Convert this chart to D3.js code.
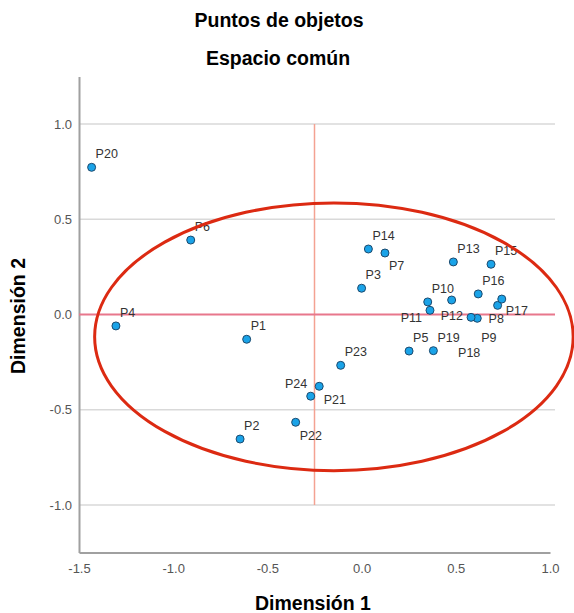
<!DOCTYPE html>
<html>
  <head>
    <meta charset="utf-8">
    <title>Puntos de objetos</title>
    <script type="text/javascript" src="https://cdnjs.cloudflare.com/ajax/libs/d3/7.8.5/d3.min.js"></script>
    <style>
      body { margin: 0; background: #fff; }
      text { font-family: "Liberation Sans", Arial, sans-serif; }
    </style>
  </head>
  <body>
  <script>

    // object labels and their coordinates on the two dimensions
    var labels = ['P1','P2','P3','P4','P5','P6','P7','P8','P9','P10','P11','P12',
                  'P13','P14','P15','P16','P17','P18','P19','P20','P21','P22','P23','P24'];
    var dim1 = [-0.61, -0.645, 0.0, -1.304, 0.252, -0.907, 0.124, 0.722, 0.614, 0.351, 0.363, 0.478,
                0.487, 0.036, 0.687, 0.619, 0.744, 0.581, 0.381, -1.433, -0.27, -0.35, -0.111, -0.225];
    var dim2 = [-0.13, -0.654, 0.138, -0.06, -0.192, 0.391, 0.323, 0.048, -0.02, 0.066, 0.022, 0.076,
                0.276, 0.344, 0.264, 0.108, 0.081, -0.015, -0.19, 0.773, -0.429, -0.566, -0.267, -0.377];

    var xTicks = [-1.5, -1.0, -0.5, 0.0, 0.5, 1.0];
    var yTicks = [-1.0, -0.5, 0.0, 0.5, 1.0];

    // reference lines and the hand drawn ellipse (data units)
    var refX = -0.25;
    var refY = 0;
    var ellipseC = [-0.147, -0.117];
    var ellipseR = [1.27, 0.703];

    // where each label sits relative to its point (pixels), default is up-right
    var labelOff = {
      P24: [-12, 2, 'end'], P21: [13, 8], P22: [4, 18], P7: [4, 17],
      P12: [-11, 20], P11: [-8, 12, 'end'], P17: [4, 16], P8: [-9, 18],
      P9: [4, 24], P18: [-13, 40]
    };

    var width = 574, height = 613;

    var svg = d3.select('body')
              .append('svg')
              .attr('width', width)
              .attr('height', height);

    var x = d3.scaleLinear()
      .domain([-1.5, 1.0])
      .range([79, 550]);

    var y = d3.scaleLinear()
      .domain([-1.25, 1.25])
      .range([552.5, 76.5]);

    var fmt = function(d) { return d3.format('.1f')(d).replace('−', '-'); };

    // titles
    svg.append('text')
      .attr('x', 279).attr('y', 27)
      .attr('text-anchor', 'middle')
      .style('font-size', '19.5px').style('font-weight', 'bold')
      .text('Puntos de objetos');

    svg.append('text')
      .attr('x', 278).attr('y', 65)
      .attr('text-anchor', 'middle')
      .style('font-size', '19.5px').style('font-weight', 'bold')
      .text('Espacio común');

    // horizontal gridlines
    svg.selectAll('.grid')
      .data(yTicks.filter(function(d) { return d !== 0; }))
      .enter().append('line')
      .attr('x1', x(-1.5)).attr('x2', 555)
      .attr('y1', function(d) { return y(d); })
      .attr('y2', function(d) { return y(d); })
      .attr('stroke', '#d9d9d9')
      .attr('stroke-width', 1.5);

    // axes
    var yAxis = svg.append('g')
      .attr('transform', 'translate(' + x(-1.5) + ',0)')
      .call(d3.axisLeft(y).tickValues(yTicks).tickSize(0).tickPadding(7)
        .tickFormat(fmt));

    var xAxis = svg.append('g')
      .attr('transform', 'translate(0,' + y(-1.25) + ')')
      .call(d3.axisBottom(x).tickValues(xTicks).tickSize(0).tickPadding(11)
        .tickFormat(fmt));

    [xAxis, yAxis].forEach(function(a) {
      a.select('.domain').attr('stroke', '#a0a0a0').attr('stroke-width', 2);
      a.selectAll('text').attr('fill', '#555').style('font-size', '13px')
        .style('font-family', '"Liberation Sans", Arial, sans-serif');
    });

    // reference lines
    svg.append('line')
      .attr('x1', x(refX)).attr('x2', x(refX))
      .attr('y1', y(1.0)).attr('y2', y(-1.0))
      .attr('stroke', '#f4a292')
      .attr('stroke-width', 1.5);

    svg.append('line')
      .attr('x1', x(-1.5)).attr('x2', 555)
      .attr('y1', y(refY)).attr('y2', y(refY))
      .attr('stroke', '#e8778c')
      .attr('stroke-width', 2);

    // points
    var pts = labels.map(function(l, i) {
      return { label: l, d1: dim1[i], d2: dim2[i] };
    });

    svg.selectAll('.pt')
      .data(pts)
      .enter().append('circle')
      .attr('cx', function(d) { return x(d.d1); })
      .attr('cy', function(d) { return y(d.d2); })
      .attr('r', 4)
      .attr('fill', '#1aa3e8')
      .attr('stroke', '#1c4a6e')
      .attr('stroke-width', 1);

    svg.selectAll('.lbl')
      .data(pts)
      .enter().append('text')
      .attr('x', function(d) { var o = labelOff[d.label] || [4, -9]; return x(d.d1) + o[0]; })
      .attr('y', function(d) { var o = labelOff[d.label] || [4, -9]; return y(d.d2) + o[1]; })
      .attr('text-anchor', function(d) { var o = labelOff[d.label]; return o && o[2] ? o[2] : 'start'; })
      .attr('fill', '#333')
      .style('font-size', '12.5px')
      .text(function(d) { return d.label; });

    // ellipse drawn over the chart
    svg.append('ellipse')
      .attr('cx', x(ellipseC[0]))
      .attr('cy', y(ellipseC[1]))
      .attr('rx', x(ellipseR[0]) - x(0))
      .attr('ry', y(0) - y(ellipseR[1]))
      .attr('fill', 'none')
      .attr('stroke', '#dc2a12')
      .attr('stroke-width', 3);

    // axis titles
    svg.append('text')
      .attr('x', 313).attr('y', 610)
      .attr('text-anchor', 'middle')
      .style('font-size', '19.5px').style('font-weight', 'bold')
      .text('Dimensión 1');

    svg.append('text')
      .attr('transform', 'translate(25,316) rotate(-90)')
      .attr('text-anchor', 'middle')
      .style('font-size', '19.5px').style('font-weight', 'bold')
      .text('Dimensión 2');

  </script>
 </body>
</html>
